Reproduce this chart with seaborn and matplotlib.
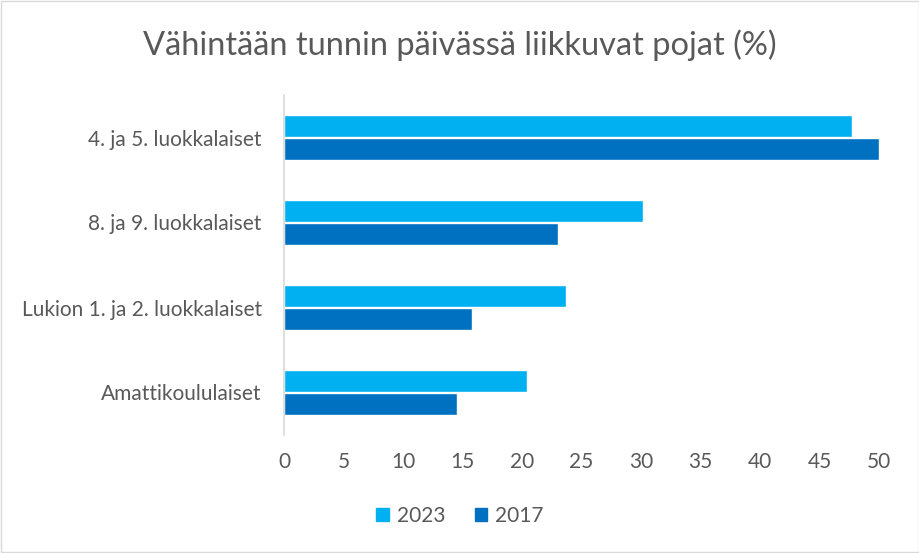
import pandas as pd
import seaborn as sns
import matplotlib.pyplot as plt
from matplotlib.patches import Rectangle

categories = ["4. ja 5. luokkalaiset", "8. ja 9. luokkalaiset",
              "Lukion 1. ja 2. luokkalaiset", "Amattikoululaiset"]
years = ["2023", "2017"]
values_2023 = [47.7, 30.2, 23.7, 20.4]
values_2017 = [50.0, 23.0, 15.8, 14.5]
colors = ["#00B0F0", "#0070C0"]

df = pd.DataFrame({
    "ryhma": categories * 2,
    "vuosi": ["2023"] * 4 + ["2017"] * 4,
    "osuus": values_2023 + values_2017,
})

sns.set_style("white")
plt.rcParams['font.family'] = ['Lato', 'DejaVu Sans']
text_col = "#595959"

fig = plt.figure(figsize=(9.2, 5.53), dpi=100)
ax = fig.add_axes([284 / 920, 1 - 435 / 553, (879 - 284) / 920, (435 - 95) / 553])

sns.barplot(data=df, y="ryhma", x="osuus", hue="vuosi", hue_order=years,
            order=categories, palette=colors, width=0.52, orient="h",
            saturation=1, ax=ax, legend=False)

ax.set_xlim(0, 50)
ax.set_xticks(range(0, 51, 5))
ax.set_xlabel("")
ax.set_ylabel("")
ax.tick_params(axis="both", length=0, colors=text_col, labelsize=15)
ax.tick_params(axis="y", pad=16)
ax.tick_params(axis="x", pad=12)
for s in ["top", "right", "bottom"]:
    ax.spines[s].set_visible(False)
ax.spines["left"].set_color("#D9D9D9")
ax.spines["left"].set_linewidth(1.2)

fig.text(0.5, 1 - 45 / 553, "Vähintään tunnin päivässä liikkuvat pojat (%)",
         ha="center", va="center", fontsize=23.5, color=text_col)

handles = [Rectangle((0, 0), 1, 1, color=c) for c in colors]
fig.legend(handles, years, loc="center", bbox_to_anchor=(0.5, 1 - 516 / 553),
           ncol=2, frameon=False, fontsize=15, labelcolor=text_col,
           handlelength=0.6, handleheight=0.6, handletextpad=0.4, columnspacing=1.4)

fig.add_artist(Rectangle((0.001, 0.001), 0.998, 0.998, transform=fig.transFigure,
                         fill=False, edgecolor="#D9D9D9", linewidth=1))

fig.savefig("out.png", dpi=100)
